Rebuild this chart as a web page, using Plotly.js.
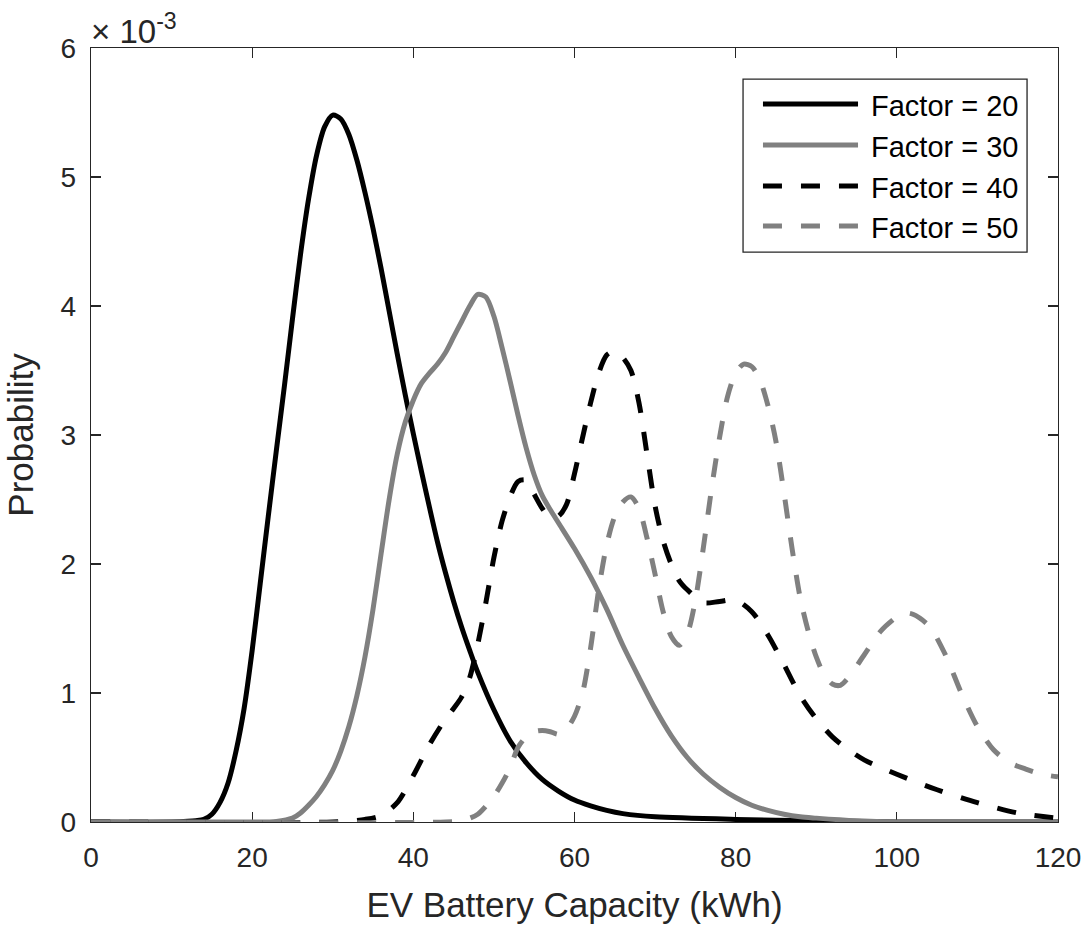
<!DOCTYPE html>
<html>
<head>
<meta charset="utf-8">
<script src="https://cdn.plot.ly/plotly-3.0.1.min.js"></script>
<style>
  html, body { margin: 0; padding: 0; background: #ffffff; }
  #chart { width: 1088px; height: 928px; }
</style>
</head>
<body>
<div id="chart"></div>
<script>
// Values are probabilities in units of 1e-3 (axis shows ×10^-3)
const seriesNames = ['Factor = 20', 'Factor = 30', 'Factor = 40', 'Factor = 50'];

const x20 = [0,10,12,13,14,15,16,17,18,19,20,21,22,23,24,25,26,27,28,29,30,31,32,33,34,35,36,37,38,39,40,41,42,43,44,45,46,47,48,50,52,54,56,58,60,62,64,66,70,80,90,100,120];
const y20 = [0,0,0.005,0.01,0.02,0.06,0.15,0.3,0.55,0.88,1.33,1.85,2.37,2.88,3.38,3.9,4.4,4.83,5.17,5.39,5.48,5.45,5.33,5.13,4.88,4.6,4.29,3.96,3.63,3.31,3.01,2.72,2.44,2.17,1.93,1.71,1.51,1.33,1.16,0.87,0.63,0.46,0.33,0.24,0.17,0.125,0.09,0.065,0.04,0.02,0.01,0,0];

const x30 = [0,20,23,25,26,27,28,29,30,31,32,33,34,35,36,37,38,39,40,41,42,43,44,45,46,47,48,49,50,51,52,53,54,55,56,57,58,60,62,64,66,68,70,72,74,76,78,80,82,84,86,88,90,95,100,120];
const y30 = [0,0,0.005,0.03,0.07,0.13,0.2,0.29,0.4,0.55,0.74,0.98,1.28,1.65,2.08,2.5,2.85,3.1,3.27,3.4,3.48,3.55,3.64,3.76,3.88,4.0,4.09,4.07,3.92,3.68,3.42,3.15,2.9,2.69,2.53,2.42,2.32,2.12,1.9,1.65,1.37,1.12,0.88,0.67,0.5,0.37,0.27,0.19,0.13,0.09,0.06,0.04,0.03,0.01,0,0];

const x40 = [0,30,34,36,38,40,42,44,45,46,47,48,49,50,51,52,53,54,55,56,57,58,59,60,61,62,63,64,65,66,67,68,69,70,71,72,73,74,76,78,80,82,84,86,88,90,92,94,96,100,105,110,115,120];
const y40 = [0,0,0.02,0.05,0.15,0.36,0.6,0.8,0.88,0.97,1.12,1.38,1.7,2.05,2.33,2.52,2.64,2.65,2.54,2.43,2.36,2.37,2.46,2.7,2.98,3.25,3.48,3.62,3.65,3.6,3.5,3.25,2.85,2.45,2.18,2.0,1.87,1.8,1.7,1.71,1.72,1.63,1.45,1.22,0.98,0.8,0.66,0.56,0.48,0.37,0.25,0.15,0.07,0.03];

const x50 = [0,44,46,48,50,51,52,53,54,55,56,57,58,59,60,61,62,63,64,65,66,67,68,69,70,71,72,73,74,75,76,77,78,79,80,81,82,83,84,85,86,87,88,89,90,91,92,93,94,96,98,100,101,102,104,106,108,110,112,114,116,118,120];
const y50 = [0,0,0.01,0.06,0.2,0.3,0.42,0.58,0.66,0.7,0.71,0.7,0.68,0.72,0.82,1.0,1.35,1.8,2.15,2.37,2.48,2.52,2.43,2.2,1.92,1.63,1.44,1.37,1.46,1.72,2.13,2.58,2.98,3.3,3.48,3.55,3.53,3.43,3.23,2.95,2.55,2.12,1.74,1.48,1.28,1.14,1.07,1.06,1.12,1.3,1.48,1.59,1.62,1.61,1.52,1.3,1.0,0.74,0.56,0.46,0.41,0.37,0.35];

const xTicks = [0, 20, 40, 60, 80, 100, 120];
const yTicks = [0, 1, 2, 3, 4, 5, 6];

const xs = [x20, x30, x40, x50];
const ys = [y20, y30, y40, y50];
const colors = ['#000000', '#808080', '#000000', '#808080'];
const dashes = ['solid', 'solid', '19px,19px', '19px,19px'];
const LW = 5;

const traces = xs.map((x, i) => ({
  type: 'scatter',
  mode: 'lines',
  x: x,
  y: ys[i],
  name: seriesNames[i],
  line: { color: colors[i], width: LW, dash: dashes[i], shape: 'spline', smoothing: 0.8 },
  showlegend: false,
  hoverinfo: 'skip'
}));

const FONT = 'Liberation Sans, Arial, Helvetica, sans-serif';
const axisColor = '#262626';

// Custom MATLAB-style legend (paper coordinates)
const legBox = { x0: 0.6743, x1: 0.9680, y0: 0.7364, y1: 0.9599 };
const legLineX = [0.6949, 0.7932];
const legRowY = [0.9276, 0.8747, 0.8217, 0.7700];
const legTextX = 0.8046;

const shapes = [{
  type: 'rect', xref: 'paper', yref: 'paper',
  x0: legBox.x0, x1: legBox.x1, y0: legBox.y0, y1: legBox.y1,
  line: { color: axisColor, width: 1.3 }, fillcolor: '#ffffff', layer: 'above'
}];
const annotations = [{
  xref: 'paper', yref: 'paper', x: 0, y: 1, xanchor: 'left', yanchor: 'bottom',
  text: '× 10<sup>-3</sup>', showarrow: false,
  font: { family: FONT, size: 33, color: axisColor }, xshift: -2, yshift: -4
}];
seriesNames.forEach((nm, i) => {
  shapes.push({
    type: 'line', xref: 'paper', yref: 'paper',
    x0: legLineX[0], x1: legLineX[1], y0: legRowY[i], y1: legRowY[i],
    line: { color: colors[i], width: LW, dash: dashes[i] }, layer: 'above'
  });
  annotations.push({
    xref: 'paper', yref: 'paper', x: legTextX, y: legRowY[i],
    xanchor: 'left', yanchor: 'middle', text: nm, showarrow: false,
    font: { family: FONT, size: 29, color: '#000000' }, yshift: -2
  });
});

const axisCommon = {
  showline: true, linecolor: axisColor, linewidth: 1.3, mirror: 'ticks',
  ticks: 'inside', ticklen: 10, tickwidth: 1.3, tickcolor: axisColor,
  showgrid: false, zeroline: false, layer: 'below traces',
  tickfont: { family: FONT, size: 28, color: axisColor }
};

const layout = {
  width: 1088, height: 928,
  margin: { l: 91, r: 30, t: 48, b: 106 },
  paper_bgcolor: '#ffffff', plot_bgcolor: '#ffffff',
  font: { family: FONT, color: axisColor },
  showlegend: false,
  xaxis: Object.assign({}, axisCommon, {
    range: [0, 120], tickvals: xTicks, ticktext: xTicks.map(String),
    ticklabelstandoff: 10,
    title: { text: 'EV Battery Capacity (kWh)', font: { family: FONT, size: 35, color: axisColor }, standoff: 20 },
    automargin: false
  }),
  yaxis: Object.assign({}, axisCommon, {
    range: [0, 6], tickvals: yTicks, ticktext: yTicks.map(String),
    ticklabelstandoff: 8,
    title: { text: 'Probability', font: { family: FONT, size: 35, color: axisColor }, standoff: 16 },
    automargin: false
  }),
  shapes: shapes,
  annotations: annotations
};

Plotly.newPlot('chart', traces, layout, { staticPlot: true, displayModeBar: false });
</script>
</body>
</html>
